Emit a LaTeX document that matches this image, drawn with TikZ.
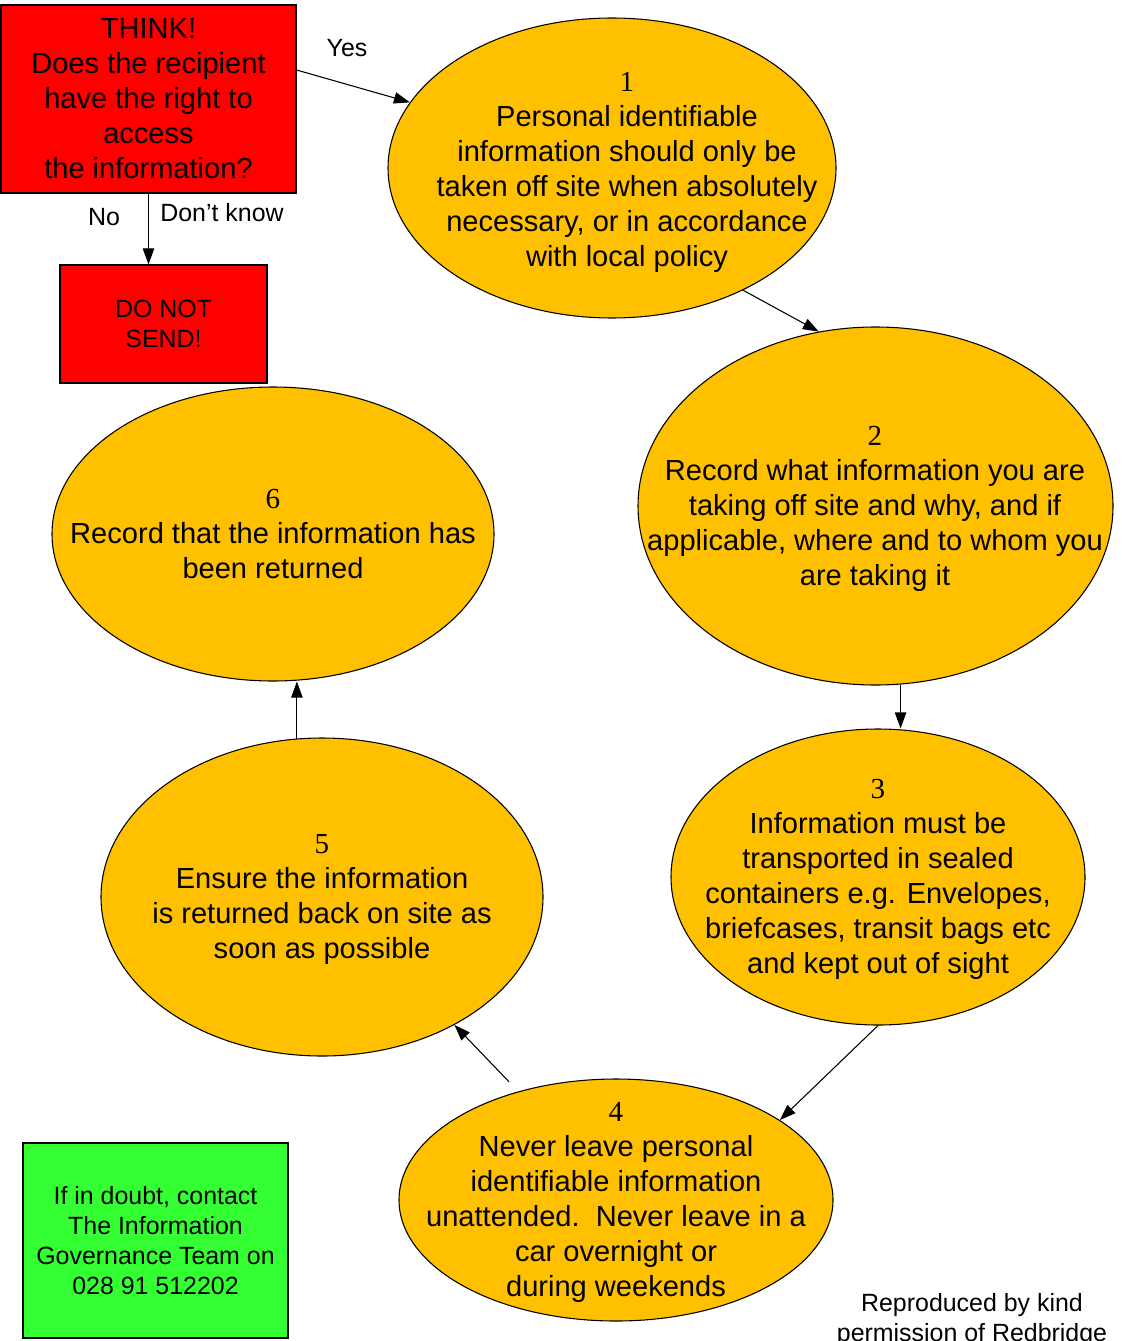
\documentclass[tikz,border=0pt]{standalone}
\usepackage{fontspec}
\setmainfont{Liberation Sans}
\newfontfamily\numfont{Liberation Serif}
\usetikzlibrary{shapes.geometric,arrows.meta,calc}
\definecolor{boxred}{HTML}{FF0000}
\definecolor{ovalgold}{HTML}{FFC000}
\definecolor{boxgreen}{HTML}{33FF33}
\begin{document}
\begin{tikzpicture}[x=0.75pt,y=-0.75pt,
  oval/.style={ellipse,draw=black,fill=ovalgold,inner sep=0pt,line width=0.8pt},
  ovaltext/.style={align=center,font=\fontsize{21.8}{26.25}\selectfont,inner sep=0pt},
  redbox/.style={draw=black,fill=boxred,inner sep=0pt,line width=0.8pt,align=center},
  conn/.style={-{Triangle[length=12pt,width=8.5pt]},line width=0.8pt},
  small/.style={font=\fontsize{18.7}{22.5}\selectfont,align=center,inner sep=0pt}]
\useasboundingbox (0,0) rectangle (1121,1341);
% boxes
\node[redbox,minimum width=221.25pt,minimum height=141pt,font=\fontsize{21.8}{26.25}\selectfont] (b1) at (148.5,99)
  {THINK!\\Does the recipient\\have the right to\\access\\the information?};
\node[redbox,minimum width=155.25pt,minimum height=88.5pt,font=\fontsize{18.7}{22.5}\selectfont] (b2) at (163.5,324)
  {DO NOT\\SEND!};
\node[draw=black,fill=boxgreen,inner sep=0pt,line width=0.8pt,align=center,minimum width=198.75pt,minimum height=146.25pt,font=\fontsize{18.7}{22.5}\selectfont] (g) at (155.5,1240.5)
  {If in doubt, contact\\The Information\\Governance Team on\\028 91 512202};
% ellipses
\node[oval,minimum width=336pt,minimum height=225pt] (e1) at (612,168) {};
\node[oval,minimum width=356.25pt,minimum height=268.5pt] (e2) at (875.5,506) {};
\node[oval,minimum width=310.5pt,minimum height=222pt] (e3) at (878,877) {};
\node[oval,minimum width=325.5pt,minimum height=181.5pt] (e4) at (616,1200) {};
\node[oval,minimum width=331.5pt,minimum height=238.5pt] (e5) at (322,897) {};
\node[oval,minimum width=331.5pt,minimum height=220.5pt] (e6) at (273,534) {};
% ellipse texts
\node[ovaltext] (t1) at (627,172) {{\numfont 1}\\Personal identifiable\\information should only be\\taken off site when absolutely\\necessary, or in accordance\\with local policy};
\node[ovaltext] (t2) at (875,509) {{\numfont 2}\\Record what information you are\\taking off site and why, and if\\applicable, where and to whom you\\are taking it};
\node[ovaltext] (t3) at (878,879.5) {{\numfont 3}\\Information must be\\transported in sealed\\containers e.g. Envelopes,\\briefcases, transit bags etc\\and kept out of sight};
\node[ovaltext] (t4) at (616,1202.5) {{\numfont 4}\\Never leave personal\\identifiable information\\unattended.\ \ Never leave in a\\car overnight or\\during weekends};
\node[ovaltext] (t5) at (322,899.5) {{\numfont 5}\\Ensure the information\\is returned back on site as\\soon as possible};
\node[ovaltext] (t6) at (273,534) {{\numfont 6}\\Record that the information has\\been returned};
% labels
\node[small] (yes) at (347,48) {Yes};
\node[small] (no) at (104,217) {No};
\node[small] (dk) at (222,213) {Don’t know};
\node[small] (repro) at (972,1320) {Reproduced by kind\\permission of Redbridge};
% connectors
\draw[conn] ([yshift=21.75pt]b1.east) -- (e1.162);
\draw[conn] (b1.south) -- (b2.north -| b1.south);
\draw[conn] (e1.-43) -- (e2.108);
\draw[conn] (e2.-82) -- (e2.-82 |- e3.north);
\draw[conn] (e3.south) -- (e4.26);
\draw[conn,shorten <=10pt] (e4.132) -- (e5.-44);
\draw[conn] (e5.99) -- (e5.99 |- e6.south);
\end{tikzpicture}
\end{document}
